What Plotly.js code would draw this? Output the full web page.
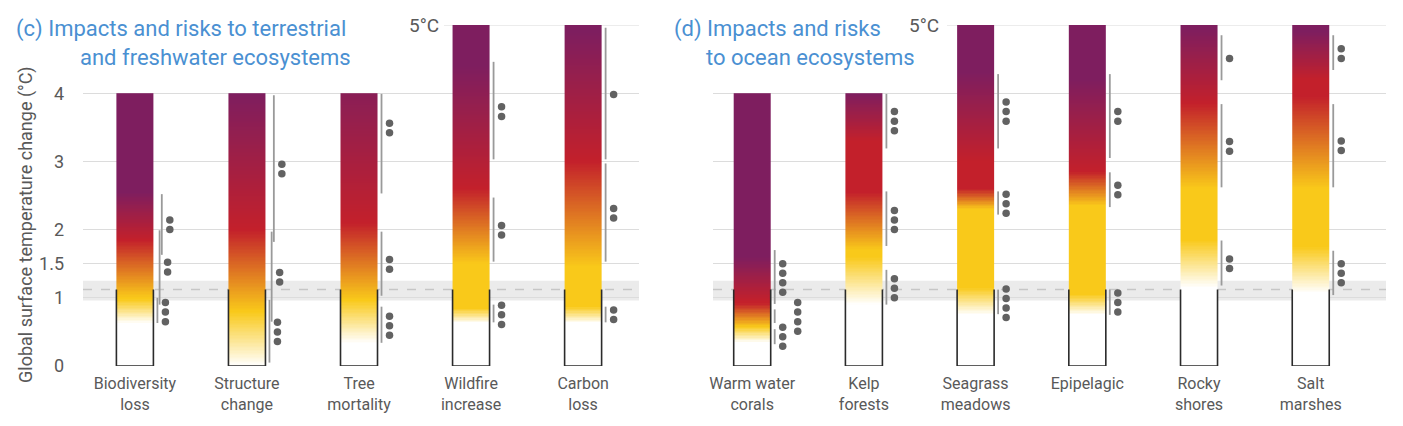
<!DOCTYPE html>
<html><head><meta charset="utf-8">
<script src="https://cdn.plot.ly/plotly-3.0.1.min.js"></script>
<style>html,body{margin:0;padding:0;background:#fff;}#chart{width:1403px;height:426px;}</style>
</head><body><div id="chart"></div>
<script>
// ---------------- DATA ----------------
const catC = ["Biodiversity<br>loss","Structure<br>change","Tree<br>mortality","Wildfire<br>increase","Carbon<br>loss"];
const catD = ["Warm water<br>corals","Kelp<br>forests","Seagrass<br>meadows","Epipelagic","Rocky<br>shores","Salt<br>marshes"];
const yTickVals = [0, 1, 1.5, 2, 3, 4];
const yTickText = ["0", "1", "1.5", "2", "3", "4"];
// top of each bar (°C)
const topC = [4, 4, 4, 5, 5];
const topD = [4, 4, 5, 5, 5, 5];
// gradient stops (°C): undetectable ends, moderate full, moderate ends, high full, high ends, very high full
const gradC = [
  [0.63, 0.98, 1.00, 1.85, 1.85, 2.55],
  [0.00, 0.80, 0.80, 2.00, 2.00, 4.00],
  [0.34, 0.97, 0.97, 2.10, 2.10, 4.40],
  [0.63, 0.85, 1.50, 2.60, 2.60, 4.40],
  [0.63, 0.87, 1.45, 3.00, 3.00, 4.90]
];
const gradD = [
  [0.35, 0.58, 0.58, 0.92, 0.95, 1.60],
  [0.90, 1.60, 1.70, 2.55, 3.30, 4.00],
  [0.75, 1.15, 2.30, 2.60, 3.00, 4.30],
  [0.75, 1.05, 2.35, 2.85, 2.85, 4.20],
  [1.15, 1.85, 2.60, 3.85, 3.85, 4.95],
  [1.07, 1.75, 2.60, 3.95, 4.20, 4.90]
];
// transitions: [low °C, high °C, confidence dots centre °C, number of dots]
const transC = [
  [[0.63, 1.00, 0.79, 3], [0.90, 1.99, 1.45, 2], [1.63, 2.52, 2.07, 2]],
  [[0.05, 0.97, 0.50, 3], [0.65, 1.97, 1.30, 2], [1.82, 3.97, 2.89, 2]],
  [[0.34, 0.87, 0.59, 3], [1.03, 1.97, 1.49, 2], [2.53, 3.99, 3.49, 2]],
  [[0.64, 0.90, 0.75, 3], [1.53, 2.47, 1.99, 2], [3.03, 4.46, 3.73, 2]],
  [[0.64, 0.87, 0.75, 2], [1.53, 2.97, 2.24, 2], [3.03, 4.96, 3.98, 1]]
];
const transD = [
  [[0.32, 0.54, 0.43, 3], [0.63, 0.83, 0.72, 4], [0.91, 1.70, 1.29, 4]],
  [[0.90, 1.41, 1.14, 3], [1.76, 2.56, 2.14, 3], [3.19, 3.99, 3.59, 3]],
  [[0.76, 1.12, 0.92, 4], [2.22, 2.56, 2.38, 3], [3.19, 4.28, 3.73, 3]],
  [[0.75, 1.12, 0.93, 3], [2.33, 2.84, 2.58, 2], [3.05, 4.28, 3.66, 2]],
  [[1.18, 1.84, 1.50, 2], [2.62, 3.84, 3.22, 2], [4.19, 4.85, 4.51, 1]],
  [[1.04, 1.69, 1.36, 3], [2.62, 3.84, 3.23, 2], [4.34, 4.85, 4.58, 2]]
];
// observed warming (°C) and its likely range
const observedWarming = 1.12;
const observedRange = [0.96, 1.25];

// ---------------- STYLE / LAYOUT ----------------
const W = 1403, H = 426;
const M = {l: 83, r: 17, t: 25, b: 60};
const plotW = W - M.l - M.r;
const FONT = "Roboto, 'Noto Sans', sans-serif";
const GREY = "#595959";
const colorscale = [[0, "#ffffff"], [1/3, "#F9C91A"], [2/3, "#C3202B"], [1, "#7E1E5F"]];
// per-transition dot column shift (extra column only where dots would collide)
const dotShiftD = [[0, 1, 0], [0, 0, 0], [0, 0, 0], [0, 0, 0], [0, 0, 0], [0, 0, 0]];
const dotShiftC = [[0, 0, 0], [0, 0, 0], [0, 0, 0], [0, 0, 0], [0, 0, 0]];

const panels = [
  {cats: catC, tops: topC, grad: gradC, trans: transC, shift: dotShiftC, xa: "x", range: [-0.4632, 4.4988], dom: [0, 556 / plotW]},
  {cats: catD, tops: topD, grad: gradD, trans: transD, shift: dotShiftD, xa: "x2", range: [-0.3509, 5.6737], dom: [630 / plotW, 1]}
];

function level(v, g) {
  const pts = [[g[0], 0], [g[1], 1], [g[2], 1], [g[3], 2], [g[4], 2], [g[5], 3]];
  if (v <= pts[0][0]) return 0;
  for (let k = 1; k < pts.length; k++) {
    if (v <= pts[k][0]) {
      const a = pts[k - 1][0], la = pts[k - 1][1], b = pts[k][0], lb = pts[k][1];
      return b === a ? lb : la + (lb - la) * (v - a) / (b - a);
    }
  }
  return 3;
}

const traces = [];
panels.forEach(p => {
  const pxu = plotW * (p.dom[1] - p.dom[0]) / (p.range[1] - p.range[0]); // px per x unit
  const bw = 37 / pxu;
  const boxX = [], boxY = [], lnX = [], lnY = [], dX = [], dY = [];
  p.cats.forEach((c, i) => {
    const top = p.tops[i];
    const n = Math.round(top * 50);
    const edges = [], z = [];
    for (let j = 0; j <= n; j++) edges.push(top * j / n);
    for (let j = 0; j < n; j++) z.push([level((edges[j] + edges[j + 1]) / 2, p.grad[i])]);
    traces.push({type: "heatmap", x: [i - bw / 2, i + bw / 2], y: edges, z: z,
      colorscale: colorscale, zmin: 0, zmax: 3, showscale: false, hoverinfo: "skip",
      xaxis: p.xa, yaxis: "y"});
    boxX.push(i - bw / 2, i - bw / 2, i + bw / 2, i + bw / 2, null);
    boxY.push(observedWarming, 0, 0, observedWarming, null);
    let off = 4, prevHi = -1;
    p.trans[i].forEach((t, k) => {
      if (t[0] < prevHi) off += 2.2;
      prevHi = t[1];
      const lx = i + bw / 2 + off / pxu;
      lnX.push(lx, lx, null); lnY.push(t[0], t[1], null);
      const dx = lx + (8 + 15 * p.shift[i][k]) / pxu;
      for (let d = 0; d < t[3]; d++) {
        dX.push(dx); dY.push(t[2] + (d - (t[3] - 1) / 2) * 0.14);
      }
    });
  });
  traces.push({type: "scatter", mode: "lines", x: boxX, y: boxY, xaxis: p.xa, yaxis: "y",
    line: {color: "#2b2b2b", width: 1.6}, hoverinfo: "skip", showlegend: false});
  traces.push({type: "scatter", mode: "lines", x: lnX, y: lnY, xaxis: p.xa, yaxis: "y",
    line: {color: "#9a9a9a", width: 1.8}, hoverinfo: "skip", showlegend: false});
  traces.push({type: "scatter", mode: "markers", x: dX, y: dY, xaxis: p.xa, yaxis: "y",
    marker: {color: "#626262", size: 7.5}, hoverinfo: "skip", showlegend: false});
});

function px2paperX(px) { return (px - M.l) / plotW; }
function px2paperY(py) { return (H - M.b - py) / (H - M.t - M.b); }

const xaxisBase = {showgrid: false, zeroline: false, showline: false, ticks: "",
  tickfont: {family: FONT, size: 16, color: GREY}, ticklabelstandoff: 6, fixedrange: true};

const shapes = [];
["x domain", "x2 domain"].forEach(xr => {
  shapes.push({type: "rect", xref: xr, yref: "y", x0: 0, x1: 1, y0: observedRange[0], y1: observedRange[1],
    fillcolor: "#ebebeb", line: {width: 0}, layer: "below"});
  shapes.push({type: "line", xref: xr, yref: "y", x0: 0, x1: 1, y0: observedWarming, y1: observedWarming,
    line: {color: "#c6c6c6", width: 1.5, dash: "dash"}, layer: "below"});
});
shapes.push({type: "line", xref: "paper", yref: "y", x0: px2paperX(444), x1: panels[0].dom[1], y0: 5, y1: 5,
  line: {color: "#d9d9d9", width: 1}, layer: "below"});
shapes.push({type: "line", xref: "paper", yref: "y", x0: px2paperX(947), x1: 1, y0: 5, y1: 5,
  line: {color: "#d9d9d9", width: 1}, layer: "below"});

const layout = {
  width: W, height: H, margin: M, paper_bgcolor: "#fff", plot_bgcolor: "#fff",
  showlegend: false, font: {family: FONT, color: GREY},
  xaxis: Object.assign({}, xaxisBase, {domain: panels[0].dom, range: panels[0].range, anchor: "y",
    tickvals: catC.map((_, i) => i), ticktext: catC}),
  xaxis2: Object.assign({}, xaxisBase, {domain: panels[1].dom, range: panels[1].range, anchor: "y",
    tickvals: catD.map((_, i) => i), ticktext: catD}),
  yaxis: {range: [0, 5], tickvals: yTickVals, ticktext: yTickText, showgrid: true, gridcolor: "#dcdcdc",
    gridwidth: 1, zeroline: false, showline: false, ticks: "", ticklabelstandoff: 18,
    tickfont: {family: FONT, size: 18, color: GREY}, fixedrange: true},
  shapes: shapes,
  annotations: [
    {text: "(c) Impacts and risks to terrestrial", xref: "paper", yref: "paper", x: px2paperX(14), y: px2paperY(29),
      xanchor: "left", yanchor: "middle", showarrow: false, font: {family: FONT, size: 22, color: "#4A90D2"}},
    {text: "and freshwater ecosystems", xref: "paper", yref: "paper", x: px2paperX(78), y: px2paperY(57),
      xanchor: "left", yanchor: "middle", showarrow: false, font: {family: FONT, size: 22, color: "#4A90D2"}},
    {text: "(d) Impacts and risks", xref: "paper", yref: "paper", x: px2paperX(672), y: px2paperY(29),
      xanchor: "left", yanchor: "middle", showarrow: false, font: {family: FONT, size: 22, color: "#4A90D2"}},
    {text: "to ocean ecosystems", xref: "paper", yref: "paper", x: px2paperX(704), y: px2paperY(57),
      xanchor: "left", yanchor: "middle", showarrow: false, font: {family: FONT, size: 22, color: "#4A90D2"}},
    {text: "5°C", xref: "paper", yref: "y", x: px2paperX(441), y: 5, xanchor: "right", yanchor: "middle",
      showarrow: false, font: {family: FONT, size: 19, color: GREY}},
    {text: "5°C", xref: "paper", yref: "y", x: px2paperX(941), y: 5, xanchor: "right", yanchor: "middle",
      showarrow: false, font: {family: FONT, size: 19, color: GREY}},
    {text: "Global surface temperature change (°C)", xref: "paper", yref: "paper", x: px2paperX(26), y: px2paperY(225),
      xanchor: "center", yanchor: "middle", textangle: -90, showarrow: false, font: {family: FONT, size: 18, color: GREY}}
  ]
};

Plotly.newPlot("chart", traces, layout, {staticPlot: true, displayModeBar: false});
</script>
</body></html>
